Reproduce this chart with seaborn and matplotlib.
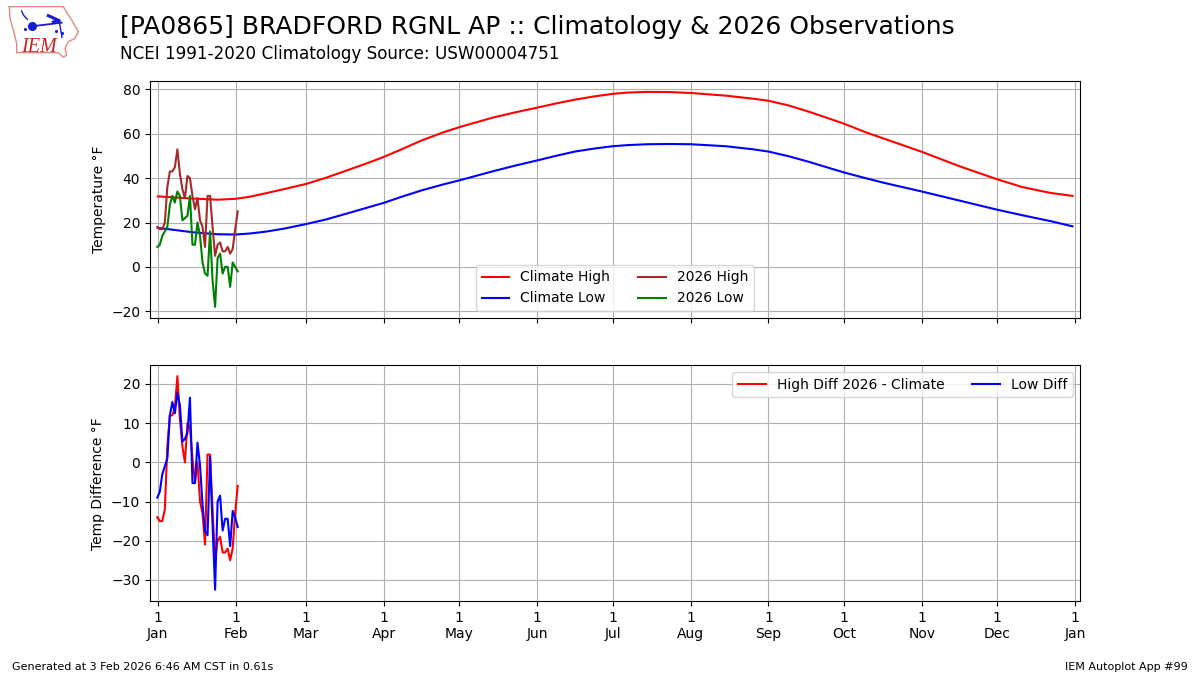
import matplotlib
matplotlib.use('Agg')  # no display
import matplotlib.pyplot as plt
import seaborn as sns

# Climatology (day of year, deg F)
clim_days = [1, 8, 15, 25, 32, 38, 44, 51, 60, 68, 77, 84, 91, 98, 106, 114, 121, 134, 143, 152, 160, 167, 175, 182,
             188, 196, 205, 213, 227, 238, 244, 252, 260, 274, 282, 290, 305, 320, 335, 345, 356, 365]
clim_high = [31.8, 31.3, 30.8, 30.3, 30.7, 31.7, 33.2, 35, 37.4, 40.2, 43.8, 46.6, 49.6, 53, 57, 60.4, 63, 67.2,
             69.6, 71.8, 73.8, 75.4, 76.9, 78, 78.6, 78.9, 78.8, 78.4, 77.2, 75.8, 74.9, 72.8, 70, 64.6, 61, 57.8,
             51.9, 45.4, 39.5, 36, 33.4, 32]
clim_low = [17.6, 16.6, 15.6, 14.7, 14.6, 15.1, 15.9, 17.2, 19.3, 21.4, 24.3, 26.6, 28.9, 31.6, 34.5, 37, 39, 43,
            45.6, 48, 50.2, 52, 53.4, 54.4, 54.9, 55.3, 55.4, 55.3, 54.4, 53, 52, 49.9, 47.4, 42.6, 40.2, 37.9, 34,
            29.9, 25.8, 23.3, 20.7, 18.3]

# 2026 observations, Jan 1 to Feb 2
obs_days = [d + 0.8 for d in range(33)]
obs_high = [18, 17, 17, 20, 36, 43, 43, 45, 53, 42, 35, 31, 41, 40, 32, 26, 31, 21, 18, 9, 32, 32, 18, 5, 10, 11,
            7, 7, 9, 6, 8, 17, 25]
obs_low = [9, 10, 14, 16, 18, 28, 32, 29, 34, 32, 21, 22, 23, 32, 10, 10, 20, 14, 2, -3, -4, 16, -6, -18, 4, 6,
           -3, 0, 0, -9, 2, 0, -2]
high_diff = [-14, -15, -15, -12, 4, 12, 12, 14, 22, 11, 4, 0, 10, 9, 1, -5, 0, -10, -13, -21, 2, 2, -12, -25,
             -20, -19, -23, -23, -22, -25, -22, -13, -6]
low_diff = [-9, -7.5, -3, -1, 1, 12, 15.4, 12.5, 17.7, 14.6, 5.3, 6, 7.4, 16.5, -5.3, -5.3, 5, -0.7, -10.8, -17.6,
            -18.6, 1.4, -16, -32.5, -10, -8.5, -17.4, -14.4, -14.4, -21.4, -12.4, -14.2, -16.5]

month_ticks = [1, 32, 60, 91, 121, 152, 182, 213, 244, 274, 305, 335, 366]
month_labels = ['1\nJan', '1\nFeb', '1\nMar', '1\nApr', '1\nMay', '1\nJun', '1\nJul', '1\nAug', '1\nSep', '1\nOct',
                '1\nNov', '1\nDec', '1\nJan']

# Iowa logo strokes, in pixels of the zoomed logo
logo_state_x = [28, 190, 205, 215, 235, 225, 205, 195, 200, 190, 175, 50, 50, 40, 30, 28]
logo_state_y = [20, 20, 45, 60, 95, 115, 125, 145, 165, 172, 158, 158, 130, 90, 55, 20]

fig = plt.figure(figsize=(12, 6.75), dpi=100)
ax1 = fig.add_axes([0.125, 0.529, 0.775, 0.351])
ax2 = fig.add_axes([0.125, 0.109, 0.775, 0.35], sharex=ax1)

sns.lineplot(x=clim_days, y=clim_high, color='r', label='Climate High', ax=ax1)
sns.lineplot(x=clim_days, y=clim_low, color='b', label='Climate Low', ax=ax1)
sns.lineplot(x=obs_days, y=obs_high, color='brown', label='2026 High', ax=ax1)
sns.lineplot(x=obs_days, y=obs_low, color='g', label='2026 Low', ax=ax1)
ax1.set_ylabel('Temperature \N{DEGREE SIGN}F')
ax1.set_ylim(-23, 83.8)
ax1.grid(True)
ax1.legend(loc=8, ncol=2)
ax1.tick_params(labelbottom=False)

sns.lineplot(x=obs_days, y=high_diff, color='r', label='High Diff 2026 - Climate', ax=ax2)
sns.lineplot(x=obs_days, y=low_diff, color='b', label='Low Diff', ax=ax2)
ax2.set_ylabel('Temp Difference \N{DEGREE SIGN}F')
ax2.set_ylim(-35.5, 24.8)
ax2.grid(True)
ax2.legend(loc=1, ncol=2)

ax2.set_xticks(month_ticks)
ax2.set_xticklabels(month_labels)
ax2.set_xlim(-2.1, 368)

fig.text(0.1, 0.96, '[PA0865] BRADFORD RGNL AP :: Climatology & 2026 Observations', fontsize=18, va='center')
fig.text(0.1, 0.9205, 'NCEI 1991-2020 Climatology Source: USW00004751', fontsize=12.05, va='center')
fig.text(0.01, 0.0075, 'Generated at 3 Feb 2026 6:46 AM CST in 0.61s', fontsize=8)
fig.text(0.99, 0.0075, 'IEM Autoplot App #99', fontsize=8, ha='right')

# Logo
logo = fig.add_axes([0, 1 - 70 / 675, 0.1, 70 / 675])
logo.set_xlim(0, 360)
logo.set_ylim(210, 0)
logo.axis('off')
logo.plot(logo_state_x, logo_state_y, color='#e08888', lw=1)
logo.plot([95, 185], [79, 68], color='#1a1ad0', lw=1.3)
logo.plot([145, 178, 160], [47, 62, 66], color='#1a1ad0', lw=2.2)
logo.plot([178, 186], [66, 112], color='#1a1ad0', lw=1)
logo.plot([65, 70, 82], [33, 45, 58], color='#1a1ad0', lw=1)
logo.plot([95], [79], 'o', color='#1a1ad0', ms=5.5)
logo.plot([75, 168, 185], [88, 92, 98], ls='none', marker='.', color='#1a1ad0', ms=2.5)
logo.text(62, 155, 'IEM', color='#cc2222', fontsize=14.5, family='Liberation Serif', style='italic')

plt.savefig('out.png', dpi=100)
plt.close()
